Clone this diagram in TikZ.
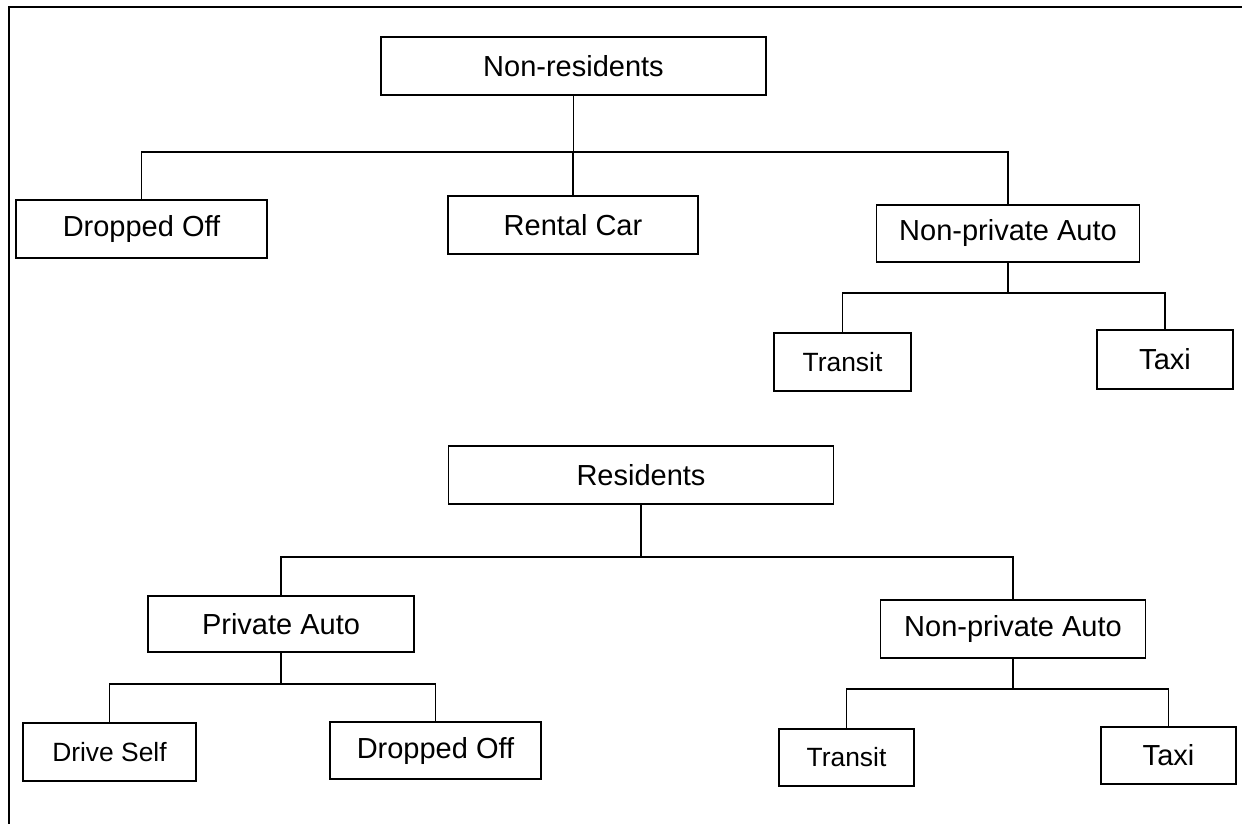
\documentclass[tikz,border=0pt]{standalone}
\usepackage{fontspec}
\setmainfont{Liberation Sans}
\begin{document}
\begin{tikzpicture}[x=0.75pt,y=-0.75pt,
  bw/.style={minimum width=#1*0.75pt},
  bh/.style={minimum height=#1*0.75pt},
  box/.style={draw, line width=1.15pt, inner sep=0pt, anchor=center},
  big/.style={font=\fontsize{21.75pt}{26pt}\selectfont},
  small/.style={font=\fontsize{19.8pt}{24pt}\selectfont},
  link/.style={line width=1pt},
  frame/.style={line width=1.5pt}]
\useasboundingbox (0,0) rectangle (1242,824);
% frame
\coordinate (fl) at (9,824);
\coordinate (fc) at (9,7);
\coordinate (fr) at (1242,7);
\draw[frame] (fl) -- (fc) -- (fr);

% non-residents tree
\node[box,big,bw=385,bh=58] (nr) at (573.5,66) {Non-residents};
\node[box,big,bw=251,bh=58] (do1) at (141.5,229) {Dropped Off};
\node[box,big,bw=250,bh=58] (rc) at (573,225) {Rental Car};
\node[box,big,bw=263,bh=57] (npa1) at (1008,233.5) {Non-private Auto};
\node[box,small,bw=137,bh=58] (tr1) at (842.5,362) {Transit};
\node[box,big,bw=136,bh=59] (tx1) at (1165,359.5) {Taxi};
\coordinate (b1) at (573,152);
\coordinate (b2) at (1008,293);

\draw[link] (nr.south) -- (nr.south |- b1);
\draw[link] (do1.north) -- (do1.north |- b1) -- (npa1.north |- b1) -- (npa1.north);
\draw[link] (rc.north) -- (rc.north |- b1);
\draw[link] (npa1.south) -- (npa1.south |- b2);
\draw[link] (tr1.north) -- (tr1.north |- b2) -- (tx1.north |- b2) -- (tx1.north);

% residents tree
\node[box,big,bw=385,bh=58] (res) at (641,475) {Residents};
\node[box,big,bw=266,bh=56] (pa) at (281,624) {Private Auto};
\node[box,big,bw=265,bh=58] (npa2) at (1013,629) {Non-private Auto};
\node[box,small,bw=173,bh=58] (ds) at (109.5,752) {Drive Self};
\node[box,big,bw=211,bh=57] (do2) at (435.5,750.5) {Dropped Off};
\node[box,small,bw=135,bh=57] (tr2) at (846.5,757.5) {Transit};
\node[box,big,bw=135,bh=57] (tx2) at (1168.5,755.5) {Taxi};
\coordinate (b3) at (641,557);
\coordinate (b4) at (110,684);
\coordinate (b5) at (1013,689);

\draw[link] (res.south) -- (res.south |- b3);
\draw[link] (pa.north) -- (pa.north |- b3) -- (npa2.north |- b3) -- (npa2.north);
\draw[link] (pa.south) -- (pa.south |- b4);
\draw[link] (ds.north) -- (ds.north |- b4) -- (do2.north |- b4) -- (do2.north);
\draw[link] (npa2.south) -- (npa2.south |- b5);
\draw[link] (tr2.north) -- (tr2.north |- b5) -- (tx2.north |- b5) -- (tx2.north);
\end{tikzpicture}
\end{document}
